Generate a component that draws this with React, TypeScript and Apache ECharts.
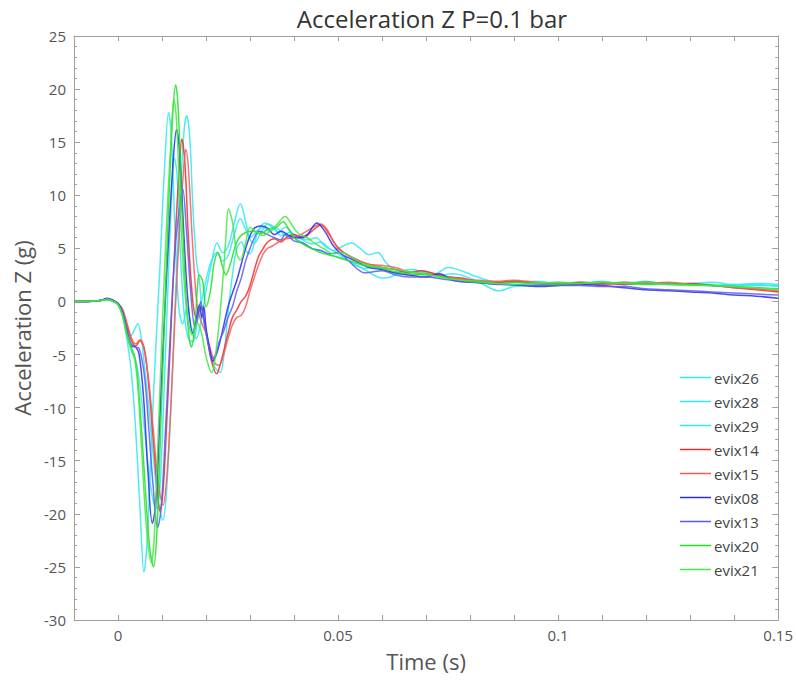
import React, { useEffect, useRef } from "react";
import * as echarts from "echarts";

const seriesNames = ["evix26", "evix28", "evix29", "evix14", "evix15", "evix08", "evix13", "evix20", "evix21"];
const seriesColors = ["#2ee8f2", "#2ee8f2", "#2ee8f2", "#f02a2a", "#f55a5a", "#2a2aee", "#5a5af2", "#22e022", "#44e844"];

const evix26 = [[-0.01,0],[-0.007,0],[-0.004,0.1],[-0.0025,0.15],[-0.001,0],[0,-0.3],[0.001,-1.3],[0.002,-3.5],[0.003,-6.5],[0.004,-12],[0.005,-19.5],[0.0059,-25.5],[0.0067,-22],[0.0075,-14],[0.0085,-5],[0.0095,3],[0.0105,12],[0.0115,17.8],[0.0122,15],[0.013,6],[0.0138,-0.5],[0.0147,-2.1],[0.0157,-0.5],[0.0167,-2.5],[0.0178,-3.5],[0.019,-1.5],[0.02,1],[0.0212,3.5],[0.0225,5.5],[0.0238,4.6],[0.025,5.2],[0.0262,7],[0.0278,9.2],[0.029,7.5],[0.03,5.8],[0.031,5.5],[0.0325,6.5],[0.034,7.3],[0.0355,7],[0.037,6.2],[0.039,6.5],[0.041,6.0],[0.043,5.8],[0.045,6.0],[0.047,5.2],[0.049,4.8],[0.051,5.2],[0.053,5.5],[0.055,5.0],[0.057,4.4],[0.059,4.6],[0.061,3.6],[0.063,3.0],[0.066,2.8],[0.069,2.9],[0.072,2.6],[0.075,3.2],[0.078,2.9],[0.081,2.4],[0.084,2.0],[0.087,1.8],[0.09,1.9],[0.095,1.6],[0.1,1.8],[0.105,1.7],[0.11,1.9],[0.115,1.6],[0.12,1.8],[0.125,1.7],[0.13,1.6],[0.135,1.5],[0.14,1.6],[0.145,1.5],[0.15,1.5]];
const evix28 = [[-0.01,0],[-0.007,0],[-0.004,0.1],[-0.0025,0.2],[-0.001,0.05],[0,-0.2],[0.001,-0.9],[0.002,-2.2],[0.003,-3.2],[0.0038,-2.6],[0.0045,-2.1],[0.0053,-3.5],[0.006,-6],[0.007,-10],[0.008,-14.5],[0.009,-18.5],[0.0102,-20.6],[0.011,-18],[0.012,-10],[0.013,0],[0.014,9],[0.015,16],[0.0156,17.5],[0.0163,15.5],[0.017,9],[0.0178,3.9],[0.0185,2],[0.019,-0.5],[0.02,-3],[0.021,-5],[0.022,-6.2],[0.0232,-6.7],[0.0242,-4.5],[0.025,-1],[0.026,2.5],[0.027,5],[0.028,5.6],[0.029,4.8],[0.03,4.5],[0.031,5.5],[0.032,6.8],[0.0335,7.4],[0.035,7.0],[0.0365,6.5],[0.038,7.0],[0.04,6.3],[0.042,5.8],[0.044,5.4],[0.046,5.6],[0.048,5.0],[0.05,4.5],[0.052,3.9],[0.054,3.5],[0.056,3.0],[0.058,2.5],[0.06,2.2],[0.062,2.3],[0.064,2.8],[0.067,3.0],[0.07,2.7],[0.073,2.5],[0.076,2.6],[0.08,2.2],[0.083,1.6],[0.0865,1.0],[0.09,1.4],[0.095,1.5],[0.1,1.6],[0.105,1.8],[0.11,1.7],[0.115,1.8],[0.12,1.7],[0.125,1.6],[0.13,1.7],[0.135,1.8],[0.14,1.6],[0.145,1.7],[0.15,1.6]];
const evix29 = [[-0.01,0],[-0.007,0],[-0.004,0.1],[-0.0025,0.2],[-0.001,0],[0,-0.3],[0.001,-1.2],[0.002,-3.0],[0.003,-4.6],[0.004,-5.5],[0.005,-8],[0.006,-12],[0.007,-16],[0.008,-18.8],[0.0088,-19.5],[0.0096,-17],[0.0105,-8],[0.0115,3],[0.0122,10],[0.0128,13.5],[0.0134,12],[0.014,6],[0.015,-1],[0.016,-3.5],[0.017,-3.8],[0.018,-2],[0.019,0],[0.02,2],[0.0212,3.8],[0.0225,4.6],[0.0238,3.8],[0.025,4.3],[0.0262,6],[0.0278,7.8],[0.029,6.8],[0.03,6.0],[0.0315,6.6],[0.033,7.0],[0.0345,6.6],[0.036,6.9],[0.038,6.2],[0.04,6.0],[0.042,5.5],[0.044,5.0],[0.046,4.8],[0.048,4.4],[0.05,4.2],[0.052,3.9],[0.054,3.4],[0.056,3.1],[0.058,3.3],[0.06,3.0],[0.063,2.6],[0.066,2.5],[0.07,2.6],[0.074,2.4],[0.078,2.1],[0.082,1.9],[0.086,1.7],[0.09,1.8],[0.095,1.9],[0.1,1.7],[0.105,1.6],[0.11,1.8],[0.115,1.7],[0.12,1.9],[0.125,1.6],[0.13,1.7],[0.135,1.6],[0.14,1.5],[0.145,1.6],[0.15,1.4]];
const evix14 = [[-0.01,0],[-0.007,0],[-0.004,0.1],[-0.0025,0.25],[-0.001,0.05],[0,-0.2],[0.001,-0.8],[0.002,-2.2],[0.003,-3.6],[0.004,-4.2],[0.005,-3.7],[0.006,-4.5],[0.007,-8],[0.008,-13],[0.009,-18],[0.0095,-19.7],[0.0102,-18],[0.011,-12],[0.012,-3],[0.013,6],[0.014,13],[0.0145,15.3],[0.0152,13],[0.016,6],[0.017,0],[0.0178,-1.5],[0.0188,-0.5],[0.0195,-1.5],[0.0205,-4],[0.0215,-6],[0.0224,-6.8],[0.0235,-5.5],[0.025,-3],[0.026,-1.5],[0.027,-0.8],[0.028,0],[0.029,0.5],[0.03,1.5],[0.031,3],[0.032,4.3],[0.033,5.0],[0.034,5.6],[0.0355,5.9],[0.037,5.6],[0.0385,6.1],[0.04,6.3],[0.042,6.0],[0.044,6.6],[0.0461,7.2],[0.048,6.3],[0.05,5.0],[0.052,4.4],[0.054,4.0],[0.056,3.6],[0.058,3.4],[0.06,3.2],[0.063,3.0],[0.066,2.7],[0.069,2.9],[0.072,2.6],[0.075,2.3],[0.078,2.2],[0.082,1.9],[0.086,1.8],[0.09,1.9],[0.095,1.7],[0.1,1.6],[0.105,1.8],[0.11,1.7],[0.115,1.6],[0.12,1.8],[0.125,1.7],[0.13,1.7],[0.135,1.5],[0.14,1.3],[0.145,1.1],[0.15,0.9]];
const evix15 = [[-0.01,0],[-0.007,0],[-0.004,0.1],[-0.0025,0.2],[-0.001,0.05],[0,-0.2],[0.001,-0.7],[0.002,-2.0],[0.003,-3.4],[0.004,-4.0],[0.005,-3.6],[0.0058,-4.2],[0.007,-7.5],[0.008,-12],[0.009,-16.5],[0.0102,-19.2],[0.011,-17],[0.012,-10],[0.013,-1],[0.014,7],[0.015,13],[0.0154,14.3],[0.016,12.5],[0.017,5],[0.018,-0.5],[0.019,-2],[0.02,-3],[0.021,-4.5],[0.022,-5.8],[0.023,-6.0],[0.024,-5.0],[0.025,-3.5],[0.026,-2.2],[0.027,-1.5],[0.028,-1.3],[0.029,-0.5],[0.03,1],[0.031,2.3],[0.032,3.5],[0.033,4.5],[0.034,5.0],[0.035,5.2],[0.0365,5.6],[0.038,5.9],[0.04,6.0],[0.042,6.4],[0.044,6.9],[0.046,7.3],[0.0475,6.8],[0.049,5.6],[0.051,4.7],[0.053,4.2],[0.055,3.8],[0.057,3.5],[0.06,3.4],[0.063,3.2],[0.066,2.8],[0.07,2.6],[0.074,2.4],[0.078,2.1],[0.082,2.0],[0.086,1.9],[0.09,2.0],[0.095,1.8],[0.1,1.7],[0.105,1.7],[0.11,1.6],[0.115,1.8],[0.12,1.7],[0.125,1.8],[0.13,1.6],[0.135,1.5],[0.14,1.3],[0.145,1.2],[0.15,1.0]];
const evix08 = [[-0.01,0],[-0.007,0],[-0.004,0.1],[-0.0025,0.3],[-0.001,0.1],[0,-0.2],[0.001,-1.0],[0.002,-2.8],[0.003,-4.2],[0.004,-4.3],[0.0048,-5],[0.0058,-9],[0.0068,-16],[0.0078,-20.9],[0.0086,-19],[0.0095,-11],[0.0105,-2],[0.0115,6],[0.0125,13],[0.0133,16.2],[0.014,14],[0.015,6],[0.016,-0.5],[0.017,-3],[0.0178,-1.5],[0.0185,-0.3],[0.019,-1.5],[0.0195,-0.5],[0.02,-2.5],[0.021,-4.8],[0.0215,-5.6],[0.0225,-4.8],[0.0235,-3.2],[0.025,-0.5],[0.026,0.8],[0.027,2],[0.028,3.5],[0.029,5],[0.03,6.2],[0.031,6.9],[0.0325,7.1],[0.034,6.9],[0.0355,6.3],[0.037,6.6],[0.039,6.2],[0.041,6.0],[0.043,6.3],[0.0452,7.4],[0.047,6.6],[0.049,5.2],[0.051,4.4],[0.053,4.0],[0.055,3.6],[0.057,3.2],[0.06,3.0],[0.063,2.7],[0.066,2.5],[0.07,2.3],[0.073,2.6],[0.076,2.0],[0.08,1.8],[0.084,1.7],[0.088,1.6],[0.092,1.5],[0.096,1.4],[0.1,1.5],[0.105,1.6],[0.11,1.5],[0.115,1.3],[0.12,1.1],[0.125,1.0],[0.13,0.9],[0.135,0.8],[0.14,0.6],[0.145,0.5],[0.15,0.3]];
const evix13 = [[-0.01,0],[-0.007,0],[-0.004,0.1],[-0.0025,0.25],[-0.001,0.05],[0,-0.2],[0.001,-0.9],[0.002,-2.6],[0.003,-4.0],[0.004,-4.3],[0.0048,-4.4],[0.006,-7],[0.007,-12],[0.008,-17.5],[0.009,-21.3],[0.0098,-19.5],[0.0108,-12],[0.012,-2],[0.013,5],[0.014,9],[0.0147,10.6],[0.0155,7],[0.0165,1],[0.0175,-2.5],[0.0183,-1],[0.0188,0],[0.0195,-1.8],[0.0205,-4],[0.0213,-5.4],[0.0222,-5],[0.023,-3.8],[0.024,-2.8],[0.025,-1.5],[0.026,-0.5],[0.027,1],[0.028,2.2],[0.029,3.8],[0.03,5.0],[0.031,6.0],[0.032,6.6],[0.033,6.5],[0.034,6.3],[0.0355,6.0],[0.037,5.8],[0.038,6.3],[0.04,5.7],[0.042,5.5],[0.044,5.0],[0.046,4.8],[0.048,4.5],[0.05,4.6],[0.052,4.0],[0.054,3.2],[0.056,2.7],[0.058,2.8],[0.06,2.9],[0.063,2.5],[0.066,2.3],[0.07,2.3],[0.074,2.1],[0.078,1.9],[0.082,1.8],[0.086,1.6],[0.09,1.6],[0.095,1.5],[0.1,1.5],[0.105,1.5],[0.11,1.4],[0.115,1.4],[0.12,1.2],[0.125,1.1],[0.13,1.0],[0.135,0.9],[0.14,0.8],[0.145,0.7],[0.15,0.6]];
const evix20 = [[-0.01,0],[-0.007,0],[-0.004,0.1],[-0.0025,0.15],[-0.001,0],[0,-0.3],[0.001,-1.2],[0.002,-3.0],[0.003,-4.3],[0.0038,-5.2],[0.0045,-7.4],[0.0055,-13],[0.0065,-19.5],[0.0073,-23.5],[0.0081,-25],[0.0088,-22],[0.0097,-12],[0.0107,0],[0.0117,11],[0.0125,18],[0.0131,20.4],[0.0137,18],[0.0145,9],[0.0155,0],[0.0162,-3.5],[0.0167,-4.3],[0.0175,-2],[0.0185,2.5],[0.0192,2],[0.02,-0.5],[0.021,1],[0.0218,3.5],[0.0227,4.6],[0.0236,3.5],[0.0245,2.5],[0.0255,3.5],[0.0265,5],[0.0275,6],[0.029,6.5],[0.031,6.6],[0.0325,6.4],[0.034,6.8],[0.036,7.0],[0.0375,7.5],[0.0388,6.8],[0.04,6.0],[0.042,5.4],[0.044,5.0],[0.046,4.6],[0.0487,4.3],[0.051,4.0],[0.053,3.8],[0.055,3.5],[0.057,3.3],[0.06,3.1],[0.063,2.8],[0.066,2.6],[0.07,2.5],[0.074,2.3],[0.078,2.0],[0.082,1.8],[0.086,1.7],[0.09,1.8],[0.095,1.7],[0.1,1.6],[0.105,1.7],[0.11,1.8],[0.115,1.7],[0.12,1.6],[0.125,1.7],[0.13,1.6],[0.135,1.5],[0.14,1.4],[0.145,1.3],[0.15,1.2]];
const evix21 = [[-0.01,0],[-0.007,0],[-0.004,0.1],[-0.0025,0.2],[-0.001,0],[0,-0.3],[0.001,-1.3],[0.002,-3.2],[0.003,-4.5],[0.0038,-5.5],[0.0045,-8],[0.0055,-15],[0.0065,-21.5],[0.0075,-24.6],[0.0082,-22.5],[0.009,-14],[0.01,-3],[0.011,7],[0.012,15],[0.0127,19],[0.0133,17],[0.014,10],[0.015,2],[0.016,-2],[0.017,-3.2],[0.018,-2],[0.019,-3.0],[0.02,-5.2],[0.0213,-6.7],[0.022,-5.5],[0.023,-2],[0.024,3],[0.0245,6],[0.0251,8.7],[0.026,7.5],[0.027,4.5],[0.0278,3.9],[0.029,5.5],[0.03,7],[0.0315,6.5],[0.033,6.2],[0.0345,6.6],[0.036,7.2],[0.038,8.0],[0.0395,7.2],[0.041,6.4],[0.043,6.0],[0.045,5.4],[0.047,4.9],[0.049,4.5],[0.051,4.6],[0.053,4.2],[0.055,3.7],[0.057,3.4],[0.06,3.2],[0.063,3.0],[0.066,2.8],[0.07,2.6],[0.074,2.2],[0.078,2.0],[0.082,1.9],[0.086,1.7],[0.09,1.6],[0.095,1.7],[0.1,1.8],[0.105,1.7],[0.11,1.8],[0.115,1.7],[0.12,1.8],[0.125,1.6],[0.13,1.5],[0.135,1.5],[0.14,1.4],[0.145,1.3],[0.15,1.1]];

const seriesData = [evix26, evix28, evix29, evix14, evix15, evix08, evix13, evix20, evix21];

const xTickLabels: Record<number, string> = { 0: "0", 5: "0.05", 10: "0.1", 15: "0.15" };

const FONT = "Open Sans";

export default function App() {
  const ref = useRef<HTMLDivElement>(null);
  useEffect(() => {
    if (!ref.current) return;
    const chart = echarts.init(ref.current, undefined, { renderer: "svg" });
    const axisColor = "#a0a0a0";
    const labelColor = "#555";
    const xCommon = {
      type: "value" as const,
      min: -0.01,
      max: 0.15,
      interval: 0.01,
      axisLine: { show: true, onZero: false, lineStyle: { color: axisColor, width: 1 } },
      axisTick: { show: true, inside: true, length: 5, lineStyle: { color: axisColor } },
      splitLine: { show: false },
    };
    const yCommon = {
      type: "value" as const,
      min: -30,
      max: 25,
      interval: 5,
      axisLine: { show: true, onZero: false, lineStyle: { color: axisColor, width: 1 } },
      axisTick: { show: true, inside: true, length: 6, lineStyle: { color: axisColor } },
      minorTick: { show: true, splitNumber: 5, length: 3, lineStyle: { color: axisColor } },
      splitLine: { show: false },
    };
    chart.setOption({
      animation: false,
      backgroundColor: "#ffffff",
      title: {
        text: "Acceleration Z P=0.1 bar",
        left: 427,
        textAlign: "center",
        top: 1,
        textStyle: { fontFamily: FONT, fontSize: 24, fontWeight: "normal", color: "#333" },
      },
      grid: { left: 74, right: 15, top: 36, bottom: 61 },
      legend: {
        orient: "vertical",
        left: 675,
        top: 365,
        icon: "rect",
        itemWidth: 31,
        itemHeight: 1.5,
        itemGap: 9,
        textStyle: { fontFamily: FONT, fontSize: 15, color: "#444", padding: [0, 0, 0, -2] },
        data: seriesNames,
      },
      xAxis: [
        {
          ...xCommon,
          position: "bottom",
          name: "Time (s)",
          nameLocation: "middle",
          nameGap: 30,
          nameTextStyle: { fontFamily: FONT, fontSize: 22, color: labelColor },
          axisLabel: {
            fontFamily: FONT,
            fontSize: 15,
            color: labelColor,
            margin: 7,
            formatter: (v: number) => {
              const k = Math.round(v * 100);
              return xTickLabels[k] !== undefined ? xTickLabels[k] : "";
            },
          },
        },
        { ...xCommon, position: "top", axisLabel: { show: false } },
      ],
      yAxis: [
        {
          ...yCommon,
          position: "left",
          name: "Acceleration Z (g)",
          nameLocation: "middle",
          nameGap: 37,
          nameTextStyle: { fontFamily: FONT, fontSize: 22, color: labelColor },
          axisLabel: { fontFamily: FONT, fontSize: 15, color: labelColor, margin: 8 },
        },
        { ...yCommon, position: "right", axisLabel: { show: false } },
      ],
      series: seriesNames.map((name, i) => ({
        name,
        type: "line",
        xAxisIndex: 0,
        yAxisIndex: 0,
        data: seriesData[i],
        symbol: "none",
        smooth: 0.35,
        color: seriesColors[i],
        lineStyle: { width: 1.5, color: seriesColors[i], opacity: 0.85 },
      })),
    });
    return () => chart.dispose();
  }, []);
  return <div ref={ref} style={{ position: "fixed", left: 0, top: 0, width: 796, height: 681 }} />;
}
